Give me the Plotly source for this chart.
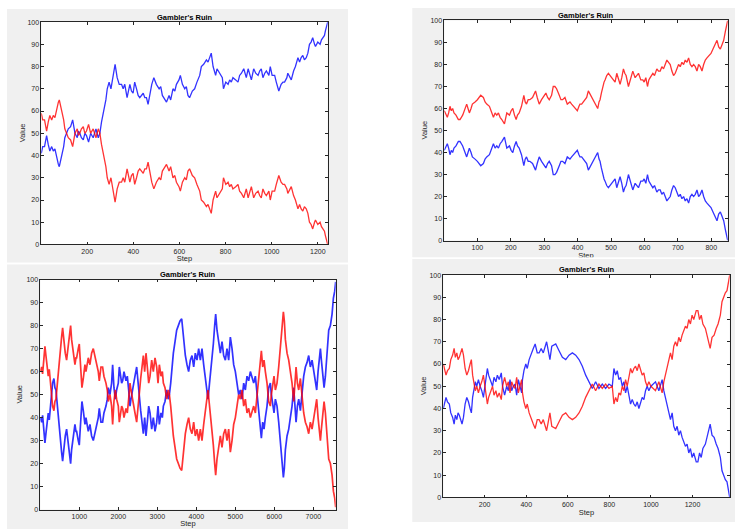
import plotly.graph_objects as go

# ---------------- data ----------------
tl_step = [1,7,15,24,31,38,46,53,60,67,
           75,79,85,92,98,103,111,118,128,137,
           147,157,162,168,175,183,190,197,206,215,
           226,233,238,248,255,262,272,281,287,295,
           303,308,316,321,330,339,349,356,363,373,
           385,392,399,406,414,421,428,435,443,450,
           457,464,471,480,489,500,512,519,526,536,
           544,555,562,572,580,587,594,598,604,613,
           623,630,637,644,656,666,676,688,695,705,
           717,724,731,738,746,757,763,775,786,791,
           801,811,818,825,832,844,854,861,869,879,
           890,898,905,912,922,931,941,948,955,962,
           970,977,988,994,1002,1013,1020,1031,1041,1049,
           1056,1066,1070,1078,1085,1095,1103,1114,1121,1128,
           1135,1142,1150,1157,1164,1171,1178,1186,1190,1200,
           1210,1216,1222,1229,1233,1239,1243]
tl_red = [59,56,56,51,55,58,56,58,57,61,
          64,65,62,60,56,52,50,48,47,44,
          50,52,49,50,52,53,50,51,54,50,
          52,49,48,52,50,45,40,35,30,27,
          30,27,22,19,25,28,28,30,28,34,
          28,31,32,27,30,33,34,33,32,34,
          34,37,33,28,25,28,30,29,33,35,
          36,33,35,30,31,28,27,26,24,28,
          30,29,33,34,31,30,27,24,20,19,
          17,18,16,14,20,24,21,23,25,30,
          27,28,26,27,25,26,27,24,23,21,
          25,21,24,26,21,23,24,22,21,25,
          23,22,24,20,24,24,27,31,28,27,
          27,25,23,25,26,22,20,16,18,16,
          15,17,16,14,10,9,7,10,11,9,
          10,8,7,6,4,2,0]
tl_blue = [41,44,44,49,45,42,44,42,43,39,
           36,35,38,40,44,48,50,52,53,56,
           50,48,51,50,48,47,50,49,46,50,
           48,51,52,48,50,55,60,65,70,73,
           70,73,78,81,75,72,72,70,72,66,
           72,69,68,73,70,67,66,67,68,66,
           66,63,67,72,75,72,70,71,67,65,
           64,67,65,70,69,72,73,74,76,72,
           70,71,67,66,69,70,73,76,80,81,
           83,82,84,86,80,76,79,77,75,70,
           73,72,74,73,75,74,73,76,77,79,
           75,79,76,74,79,77,76,78,79,75,
           77,78,76,80,76,76,73,69,72,73,
           73,75,77,75,74,78,80,84,82,84,
           85,83,84,86,90,91,93,90,89,91,
           90,92,93,94,96,98,100]

tr_step = [1,10,14,18,22,26,30,36,43,48,
           56,62,68,72,76,81,85,93,100,110,
           118,123,128,136,142,148,153,158,163,168,
           173,181,188,196,201,206,211,216,220,225,
           232,239,243,247,252,257,265,270,274,279,
           285,292,297,305,310,315,322,327,332,337,
           345,350,355,362,369,377,382,387,393,399,
           404,407,412,417,422,427,432,439,444,449,
           455,460,464,467,471,475,479,482,487,492,
           497,502,507,512,517,522,527,532,537,541,
           545,552,557,565,572,577,582,589,595,599,
           604,609,613,617,625,630,637,642,647,652,
           657,662,667,672,677,682,687,692,697,702,
           707,712,717,722,727,732,737,742,747,752,
           757,762,767,772,777,782,787,792,799,805,
           812,817,822,827,832,837,842,847,849]
tr_red = [59,56,58,61,59,60,58,57,55,55,
          57,60,62,60,58,60,62,63,64,66,
          65,63,62,61,58,56,58,57,58,56,
          55,53,58,57,59,60,57,55,57,58,
          61,66,63,62,64,64,65,67,68,65,
          62,64,65,67,65,64,66,70,70,69,
          66,64,64,65,62,63,62,61,60,59,
          61,62,62,63,64,65,68,66,64,63,
          61,60,63,64,67,70,72,73,75,76,
          75,74,73,72,76,73,71,74,78,76,
          75,70,73,77,74,75,76,73,73,72,
          74,70,73,74,76,75,78,77,77,79,
          78,80,82,81,80,77,75,76,78,80,
          79,81,80,82,81,83,80,79,80,79,
          77,80,79,77,80,82,83,84,85,87,
          89,91,88,87,89,91,95,99,100]
tr_blue = [41,44,42,39,41,40,42,43,45,45,
           43,40,38,40,42,40,38,37,36,34,
           35,37,38,39,42,44,42,43,42,44,
           45,47,42,43,41,40,43,45,43,42,
           39,34,37,38,36,36,35,33,32,35,
           38,36,35,33,35,36,34,30,30,31,
           34,36,36,35,38,37,38,39,40,41,
           39,38,38,37,36,35,32,34,36,37,
           39,40,37,36,33,30,28,27,25,24,
           25,26,27,28,24,27,29,26,22,24,
           25,30,27,23,26,25,24,27,27,28,
           26,30,27,26,24,25,22,23,23,21,
           22,20,18,19,20,23,25,24,22,20,
           21,19,20,18,19,17,20,21,20,21,
           23,20,21,23,20,18,17,16,15,13,
           11,9,12,13,11,9,5,1,0]

bl_step = [1,34,60,85,120,145,171,205,231,265,
           291,316,350,376,402,436,470,504,530,547,
           573,590,607,641,675,701,718,744,761,778,
           803,829,846,889,915,932,974,1000,1017,1034,
           1068,1103,1145,1171,1188,1231,1273,1316,1359,1385,
           1402,1444,1487,1513,1556,1598,1632,1684,1718,1744,
           1786,1829,1855,1889,1923,1957,2000,2026,2060,2086,
           2112,2146,2197,2231,2266,2300,2325,2342,2385,2428,
           2471,2505,2539,2574,2608,2642,2676,2710,2744,2779,
           2813,2856,2898,2941,2984,3018,3052,3095,3129,3155,
           3197,3240,3283,3309,3343,3368,3411,3454,3496,3539,
           3582,3625,3650,3684,3718,3761,3803,3846,3889,3932,
           3974,4017,4060,4103,4145,4188,4231,4274,4299,4333,
           4368,4402,4436,4470,4496,4530,4573,4615,4658,4701,
           4744,4786,4829,4872,4915,4957,5000,5043,5085,5128,
           5171,5214,5256,5299,5342,5385,5427,5470,5513,5556,
           5598,5641,5667,5701,5735,5769,5812,5855,5897,5923,
           5957,5991,6026,6068,6111,6154,6197,6231,6256,6282,
           6325,6368,6410,6453,6496,6521,6556,6590,6624,6667,
           6709,6752,6795,6838,6880,6923,6966,7009,7051,7085,
           7120,7154,7180,7205,7239,7274,7308,7350,7393,7436,
           7479,7513,7547,7572]
bl_red = [60,62,59,64,71,67,64,58,61,53,
          50,45,43,47,48,55,60,68,73,75,
          79,76,72,68,65,69,72,76,78,80,
          74,71,68,63,66,66,70,72,67,62,
          53,57,63,60,62,66,63,68,70,68,
          66,62,60,56,62,62,58,55,52,47,
          50,45,37,47,52,48,45,38,42,45,
          44,40,44,42,48,55,52,50,45,42,
          38,45,52,57,62,67,60,68,62,55,
          58,65,60,66,62,55,63,58,60,55,
          53,48,52,50,45,40,32,27,22,20,
          18,17,22,28,33,37,40,35,33,38,
          32,35,30,35,30,37,42,48,52,46,
          40,35,28,20,15,22,28,32,27,33,
          35,30,35,25,30,37,40,45,50,48,
          52,45,48,42,44,40,42,45,42,50,
          58,67,69,62,65,60,55,47,45,50,
          55,58,52,55,62,70,80,86,82,74,
          68,65,60,55,47,55,62,55,52,57,
          48,42,38,36,33,38,35,40,45,48,
          40,35,30,35,40,47,42,30,22,20,
          15,8,5,1]
bl_blue = [40,38,41,36,29,33,36,42,39,47,
           50,55,57,53,52,45,40,32,27,25,
           21,24,28,32,35,31,28,24,22,20,
           26,29,32,37,34,34,30,28,33,38,
           47,43,37,40,38,34,37,32,30,32,
           34,38,40,44,38,38,42,45,48,53,
           50,55,63,53,48,52,55,62,58,55,
           56,60,56,58,52,45,48,50,55,58,
           62,55,48,43,38,33,40,32,38,45,
           42,35,40,34,38,45,37,42,40,45,
           47,52,48,50,55,60,68,73,78,80,
           82,83,78,72,67,63,60,65,67,62,
           68,65,70,65,70,63,58,52,48,54,
           60,65,72,80,85,78,72,68,73,67,
           65,70,65,75,70,63,60,55,50,52,
           48,55,52,58,56,60,58,55,58,50,
           42,33,31,38,35,40,45,53,55,50,
           45,42,48,45,38,30,20,14,18,26,
           32,35,40,45,53,45,38,45,48,43,
           52,58,62,64,67,62,65,60,55,52,
           60,65,70,65,60,53,58,70,78,80,
           85,92,95,99]

br_step = [1,8,14,21,30,37,46,53,59,66,
           72,78,85,91,98,106,114,122,130,136,
           142,149,155,162,170,178,186,194,200,206,
           213,219,229,238,245,254,261,270,280,286,
           296,306,314,322,330,338,346,354,362,370,
           378,382,389,398,405,414,424,434,443,453,
           462,472,482,491,498,504,514,523,542,558,
           574,590,606,622,638,654,670,686,702,718,
           734,750,766,782,798,814,822,830,838,846,
           854,862,870,878,886,894,902,910,918,926,
           934,942,950,958,966,974,982,990,1000,1022,
           1038,1054,1062,1070,1078,1086,1094,1102,1110,1118,
           1126,1134,1142,1150,1158,1166,1174,1182,1190,1198,
           1206,1218,1226,1234,1242,1250,1262,1270,1278,1285,
           1294,1304,1314,1323,1334,1342,1350,1358,1366,1374,
           1379]
br_red = [60,57,55,57,58,62,64,67,63,65,
          62,63,65,67,64,58,55,57,60,62,
          55,50,48,50,47,50,52,55,50,45,
          42,45,48,50,46,48,45,47,44,50,
          54,50,52,47,52,50,49,54,47,50,
          53,47,43,40,42,38,35,33,31,35,
          35,33,35,32,30,33,38,32,31,34,
          37,38,36,35,36,38,41,45,48,51,
          48,51,49,51,49,50,42,45,43,47,
          46,50,48,53,50,54,58,56,58,59,
          57,60,57,55,56,52,50,52,50,48,
          52,47,52,55,58,62,65,62,68,70,
          68,72,70,73,75,77,76,80,78,82,
          80,84,84,80,82,78,76,73,70,67,
          72,73,76,78,82,88,90,92,93,97,
          100]
br_blue = [40,43,45,43,42,38,36,33,37,35,
           38,37,35,33,36,42,45,43,40,38,
           45,50,52,50,53,50,48,45,50,55,
           58,55,52,50,54,52,55,53,56,50,
           46,50,48,53,48,50,51,46,53,50,
           47,53,57,60,58,62,65,67,69,65,
           65,67,65,68,70,67,62,68,69,66,
           63,62,64,65,64,62,59,55,52,49,
           52,49,51,49,51,50,58,55,57,53,
           54,50,52,47,50,46,42,44,42,41,
           43,40,43,45,44,48,50,48,50,52,
           48,53,48,45,42,38,35,38,32,30,
           32,28,30,27,25,23,24,20,22,18,
           20,16,16,20,18,22,24,27,30,33,
           28,27,24,22,18,12,10,8,7,3,
           0]

tl_xticks = [200, 400, 600, 800, 1000, 1200]
tr_xticks = [100, 200, 300, 400, 500, 600, 700, 800]
bl_xticks = [1000, 2000, 3000, 4000, 5000, 6000, 7000]
br_xticks = [200, 400, 600, 800, 1000, 1200]
y_ticks = [0, 10, 20, 30, 40, 50, 60, 70, 80, 90, 100]
title_text = "Gambler's Ruin"
x_label = "Step"
y_label = "Value"

# ---------------- layout geometry (pixels) ----------------
W, H = 735, 532
FONT = "Liberation Sans, Arial, Helvetica, sans-serif"
AXC = "#262626"
GRAY = "#f0f0f0"

panels = [
    dict(gray=(7, 5, 348, 262), ax=(41.3, 18.3, 327.7, 243.7), xmax=1243,
         title_y=13.3, vlab_x=22, step_y=258.8, lw=1.3,
         steps=tl_step, red=tl_red, blue=tl_blue, xt=tl_xticks),
    dict(gray=(412.3, 4, 734, 256.7), ax=(444.3, 16.7, 727.7, 239.7), xmax=849,
         title_y=11.7, vlab_x=425, step_y=255.3, lw=1.3,
         steps=tr_step, red=tr_red, blue=tr_blue, xt=tr_xticks),
    dict(gray=(7, 264, 348, 531), ax=(40.3, 279.3, 335.7, 512.3), xmax=7572,
         title_y=274.3, vlab_x=20, step_y=527.5, lw=1.7,
         steps=bl_step, red=bl_red, blue=bl_blue, xt=bl_xticks),
    dict(gray=(412.3, 258.5, 734, 525), ax=(443.3, 274.7, 729.7, 500), xmax=1379,
         title_y=269.3, vlab_x=423, step_y=516, lw=1.3,
         steps=br_step, red=br_red, blue=br_blue, xt=br_xticks),
]


def px(x):
    return x / W


def py(y):
    return 1 - y / H


fig = go.Figure()
layout = dict(
    width=W, height=H, margin=dict(l=0, r=0, t=0, b=0),
    paper_bgcolor="white", plot_bgcolor="rgba(0,0,0,0)",
    showlegend=False, font=dict(family=FONT, color=AXC),
)
shapes = []
annotations = []

for i, p in enumerate(panels, 1):
    sx = "" if i == 1 else str(i)
    gx0, gy0, gx1, gy1 = p["gray"]
    ax0, ay0, ax1, ay1 = p["ax"]
    # gray panel: extend to the page edge when it touches it
    ex1 = W if gx1 >= W - 1 else gx1
    ey1 = H if gy1 >= H - 1 else gy1
    shapes.append(dict(type="rect", xref="paper", yref="paper",
                       x0=px(gx0), x1=px(ex1), y0=py(ey1), y1=py(gy0),
                       fillcolor=GRAY, line=dict(width=0), layer="below"))
    shapes.append(dict(type="rect", xref="paper", yref="paper",
                       x0=px(ax0), x1=px(ax1), y0=py(ay1), y1=py(ay0),
                       fillcolor="white", line=dict(width=0), layer="below"))

    fig.add_trace(go.Scatter(x=p["steps"], y=p["blue"], mode="lines",
                             line=dict(color="#0000ff", width=p["lw"]),
                             opacity=0.8, xaxis="x" + sx, yaxis="y" + sx,
                             hoverinfo="skip"))
    fig.add_trace(go.Scatter(x=p["steps"], y=p["red"], mode="lines",
                             line=dict(color="#ff0000", width=p["lw"]),
                             opacity=0.8, xaxis="x" + sx, yaxis="y" + sx,
                             hoverinfo="skip"))

    layout["xaxis" + sx] = dict(
        domain=[px(ax0), px(ax1)], range=[1, p["xmax"]], anchor="y" + sx,
        tickmode="array", tickvals=p["xt"], ticks="inside", ticklen=3,
        tickwidth=0.6, tickcolor=AXC, showline=True, linecolor=AXC,
        linewidth=0.6, mirror="ticks", showgrid=False, zeroline=False,
        tickfont=dict(size=7, color=AXC, family=FONT), fixedrange=True)
    layout["yaxis" + sx] = dict(
        domain=[py(ay1), py(ay0)], range=[0, 100], anchor="x" + sx,
        tickmode="array", tickvals=y_ticks, ticks="inside", ticklen=3,
        tickwidth=0.6, tickcolor=AXC, showline=True, linecolor=AXC,
        linewidth=0.6, mirror="ticks", showgrid=False, zeroline=False,
        tickfont=dict(size=7, color=AXC, family=FONT), fixedrange=True)

    # overlay subplot covering the gray panel, used to clip the "Step" label
    o = str(i + 4)
    layout["xaxis" + o] = dict(domain=[px(gx0), px(gx1)], range=[gx0, gx1],
                               anchor="y" + o, visible=False, fixedrange=True)
    layout["yaxis" + o] = dict(domain=[py(gy1), py(gy0)], range=[gy1, gy0],
                               anchor="x" + o, visible=False, fixedrange=True)
    fig.add_trace(go.Scatter(x=[(ax0 + ax1) / 2], y=[p["step_y"]], mode="text",
                             text=[x_label], textposition="middle center",
                             textfont=dict(size=7.5, color=AXC, family=FONT),
                             cliponaxis=True, xaxis="x" + o, yaxis="y" + o,
                             hoverinfo="skip"))

    annotations.append(dict(text="<b>" + title_text + "</b>", xref="paper", yref="paper",
                            x=px((ax0 + ax1) / 2), y=py(p["title_y"]),
                            xanchor="center", yanchor="middle", showarrow=False,
                            font=dict(size=7.5, color="black", family=FONT)))
    annotations.append(dict(text=y_label, xref="paper", yref="paper",
                            x=px(p["vlab_x"]), y=py((ay0 + ay1) / 2),
                            xanchor="center", yanchor="middle", textangle=-90,
                            showarrow=False,
                            font=dict(size=7.5, color=AXC, family=FONT)))

layout["shapes"] = shapes
layout["annotations"] = annotations
fig.update_layout(**layout)

fig.write_html("out.html", config={"displayModeBar": False},
               post_script="document.body.style.margin='0';")
